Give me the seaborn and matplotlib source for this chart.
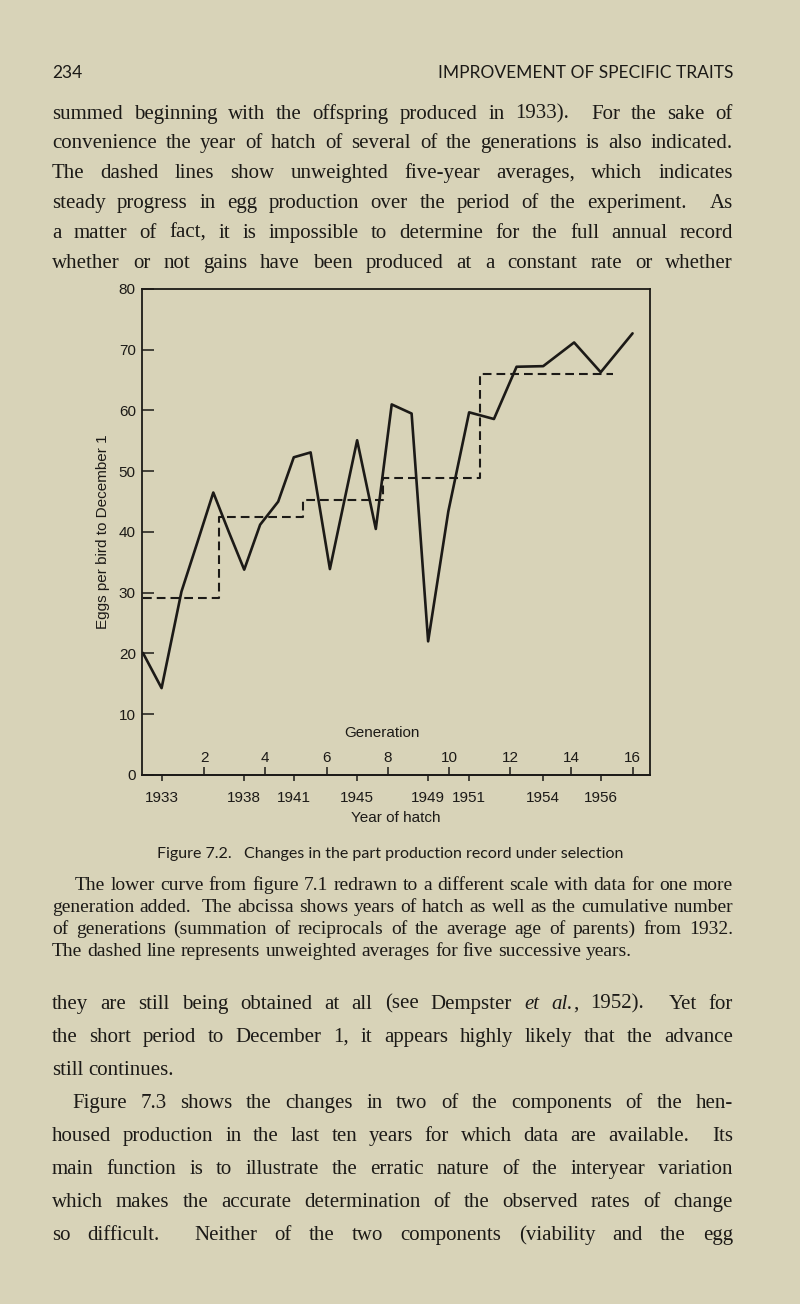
import matplotlib
matplotlib.use("Agg")
import numpy as np
import pandas as pd
import seaborn as sns
import matplotlib.pyplot as plt

# data: one point per year of hatch, placed at the
# cumulative number of generations since 1932
years = [1932, 1933, 1934, 1935, 1936, 1937, 1938, 1939, 1940, 1941, 1942, 1943, 1944,
         1945, 1946, 1947, 1948, 1949, 1950, 1951, 1952, 1953, 1954, 1955, 1956, 1957]
generations = [0.0, 0.61, 1.26, 1.78, 2.30, 2.80, 3.31, 3.83, 4.42, 4.93, 5.48, 6.11, 6.55,
               7.0, 7.61, 8.13, 8.78, 9.32, 9.98, 10.66, 11.47, 12.21, 13.08, 14.09, 14.96, 16.0]
eggs = [20.1, 14.3, 30.2, 38.3, 46.5, 40.1, 33.8, 41.2, 45.0, 52.3, 53.1, 33.9, 44.4,
        55.1, 40.5, 61.0, 59.5, 22.0, 43.4, 59.7, 58.6, 67.2, 67.3, 71.2, 66.3, 72.7]

# unweighted five-year averages (dashed steps)
avg_edges = [0.0, 2.48, 5.22, 7.85, 11.01, 15.37]
avg_eggs = [29.1, 42.5, 45.3, 48.9, 66.0]

gen_ticks = [2, 4, 6, 8, 10, 12, 14, 16]
year_ticks = [1933, 1938, 1941, 1945, 1949, 1951, 1954, 1956]
y_ticks = [0, 10, 20, 30, 40, 50, 60, 70, 80]

header_num = "234"
header_title = "IMPROVEMENT OF SPECIFIC TRAITS"
top_lines = [
    "summed beginning with the offspring produced in 1933).  For the sake of",
    "convenience the year of hatch of several of the generations is also indicated.",
    "The dashed lines show unweighted five-year averages, which indicates",
    "steady progress in egg production over the period of the experiment.  As",
    "a matter of fact, it is impossible to determine for the full annual record",
    "whether or not gains have been produced at a constant rate or whether",
]
caption_title = "Figure 7.2.   Changes in the part production record under selection"
caption_lines = [
    "The lower curve from figure 7.1 redrawn to a different scale with data for one more",
    "generation added.  The abcissa shows years of hatch as well as the cumulative number",
    "of generations (summation of reciprocals of the average age of parents) from 1932.",
    "The dashed line represents unweighted averages for five successive years.",
]
bottom_lines = [
    "they are still being obtained at all (see Dempster *et* *al.*, 1952).  Yet for",
    "the short period to December 1, it appears highly likely that the advance",
    "still continues.",
    "Figure 7.3 shows the changes in two of the components of the hen-",
    "housed production in the last ten years for which data are available.  Its",
    "main function is to illustrate the erratic nature of the interyear variation",
    "which makes the accurate determination of the observed rates of change",
    "so difficult.  Neither of the two components (viability and the egg",
]

PAPER = "#d8d3b8"
INK = "#1c1a17"
W, H, DPI = 800, 1304, 100
SERIF = ["Liberation Serif", "DejaVu Serif"]
SANS_T = ["Lato", "DejaVu Sans"]

sns.set_style("ticks")
plt.rcParams["font.family"] = ["Liberation Sans", "DejaVu Sans"]
plt.rcParams["text.color"] = INK
plt.rcParams["axes.labelcolor"] = INK
plt.rcParams["xtick.color"] = INK
plt.rcParams["ytick.color"] = INK

fig = plt.figure(figsize=(W / DPI, H / DPI), dpi=DPI)
fig.patch.set_facecolor(PAPER)
renderer = fig.canvas.get_renderer()


def fit_size(lines, width, size, family):
    """largest size (<= size) at which every line fits with normal spaces"""
    best = size
    for line in lines:
        s = " ".join(line.replace("*", "").split())
        t = fig.text(0, 0, s, fontsize=size, family=family)
        w = t.get_window_extent(renderer).width
        t.remove()
        best = min(best, size * 0.985 * width / w)
    return best


def put_line(text, yc, x0, x1, size, family, justify=True):
    """write one line of text, stretched to the margins when justify"""
    em = size * DPI / 72
    base = yc + 0.27 * em
    tokens, extra = [], 0
    for p in text.split(" "):
        if p == "":
            extra += 1
            continue
        tokens.append((p, 1 + extra))
        extra = 0
    pieces = []
    for word, wgt in tokens:
        arts = []
        for i, s in enumerate(word.split("*")):
            if not s:
                continue
            t = fig.text(0, 0, s, fontsize=size, family=family,
                         style="italic" if i % 2 else "normal", color=INK, va="baseline")
            arts.append((t, t.get_window_extent(renderer).width))
        pieces.append((arts, wgt))
    total = sum(w for arts, _ in pieces for _, w in arts)
    units = sum(wgt for _, wgt in pieces[1:])
    unit = (x1 - x0 - total) / units if (justify and units) else 0.26 * em
    x = x0
    for k, (arts, wgt) in enumerate(pieces):
        if k:
            x += wgt * unit
        for t, w in arts:
            t.set_position((x / W, 1 - base / H))
            x += w


LEFT, RIGHT = 52, 733

# running head
em = 12.5 * DPI / 72
fig.text(LEFT / W, 1 - (72 + 0.36 * em) / H, header_num, fontsize=12.5, family=SANS_T, va="baseline")
fig.text(RIGHT / W, 1 - (72 + 0.36 * em) / H, header_title, fontsize=12.5, family=SANS_T,
         va="baseline", ha="right")

body_size = fit_size(top_lines + bottom_lines, RIGHT - LEFT, 15, SERIF)
for i, line in enumerate(top_lines):
    put_line(line, 113 + 29.8 * i, LEFT, RIGHT, body_size, SERIF)

# the chart
ax = fig.add_axes([142 / W, 1 - 775 / H, 508 / W, 486 / H])
ax.set_facecolor(PAPER)
df = pd.DataFrame({"year": years, "generation": generations, "eggs": eggs})
avg_df = pd.DataFrame({"generation": avg_edges, "eggs": avg_eggs + [avg_eggs[-1]]})

sns.lineplot(data=df, x="generation", y="eggs", ax=ax, color=INK, lw=1.9,
             estimator=None, sort=False)
sns.lineplot(data=avg_df, x="generation", y="eggs", ax=ax, color=INK, lw=1.5,
             estimator=None, sort=False, drawstyle="steps-post")
ax.lines[-1].set_linestyle((0, (4.2, 2.4)))

ax.set_xlim(-0.03, 16.57)
ax.set_ylim(0, 80)
for s in ax.spines.values():
    s.set_visible(True)
    s.set_linewidth(1.3)
    s.set_color(INK)

ax.set_yticks(y_ticks)
ax.tick_params(axis="y", direction="in", length=8.5, width=1.1, labelsize=11, pad=4.5)
year_pos = df.set_index("year").loc[year_ticks, "generation"].values
ax.set_xticks(year_pos)
ax.set_xticklabels([str(y) for y in year_ticks])
ax.tick_params(axis="x", direction="out", length=4.5, width=1.1, labelsize=11, pad=7)
ax.set_xlabel("Year of hatch", fontsize=11, labelpad=4.5)
ax.set_ylabel("Eggs per bird to December 1", fontsize=11, labelpad=6)

sec = ax.secondary_xaxis("bottom")
sec.set_xticks(gen_ticks)
sec.tick_params(direction="in", length=6, width=1.1, labelsize=11, pad=-17)
sec.spines["bottom"].set_linewidth(1.3)
ax.text(7.8, 6.9, "Generation", ha="center", va="center", fontsize=11)

# caption
em = 11.5 * DPI / 72
fig.text(390 / W, 1 - (853 + 0.3 * em) / H, caption_title, fontsize=11.5, family=SANS_T,
         ha="center", va="baseline")
cap_size = fit_size(caption_lines[1:3], RIGHT - LEFT, 14, SERIF)
for i, line in enumerate(caption_lines):
    x0 = 75 if i == 0 else LEFT
    put_line(line, 885 + 22 * i, x0, RIGHT, cap_size, SERIF, justify=(i < len(caption_lines) - 1))

for i, line in enumerate(bottom_lines):
    x0 = 72 if line.startswith("Figure") else LEFT
    put_line(line, 1003 + 33 * i, x0, RIGHT, body_size, SERIF, justify=(line != "still continues."))

fig.savefig("out.png", dpi=DPI, facecolor=PAPER)
